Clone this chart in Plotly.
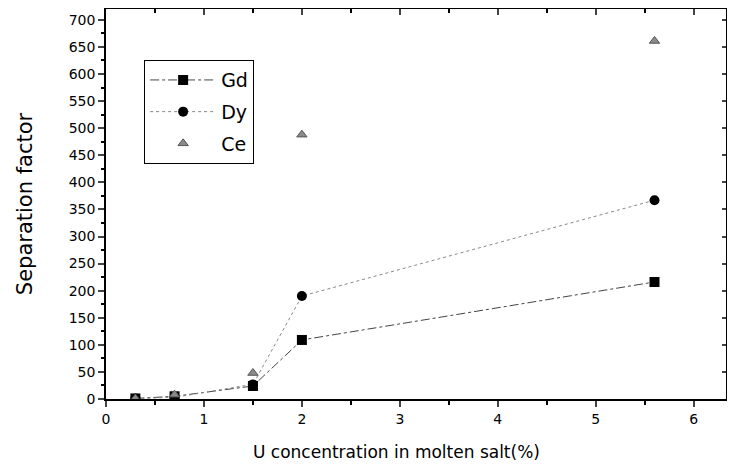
import plotly.graph_objects as go

x_vals = [0.3, 0.7, 1.5, 2.0, 5.6]
gd = [1, 5, 24, 109, 216]
dy = [1, 3, 27, 190, 367]
ce = [1, 8, 48, 488, 661]

x_ticks = [0, 1, 2, 3, 4, 5, 6]
y_ticks = list(range(0, 701, 50))

FONT = "DejaVu Sans, Liberation Sans, Arial, sans-serif"

fig = go.Figure()
fig.add_trace(go.Scatter(x=x_vals, y=gd, name="Gd", mode="lines+markers", legendgroup="a",
                         line=dict(color="#444", width=1, dash="dashdot"),
                         marker=dict(symbol="square", size=10, color="black")))
fig.add_trace(go.Scatter(x=x_vals, y=dy, name="Dy", mode="lines+markers", legendgroup="b",
                         line=dict(color="#888", width=1, dash="dot"),
                         marker=dict(symbol="circle", size=10, color="black")))
fig.add_trace(go.Scatter(x=x_vals, y=ce, name="Ce", mode="markers", legendgroup="c",
                         marker=dict(symbol="triangle-up", size=9, color="#8a8a8a",
                                     line=dict(color="#555", width=1))))
# invisible trace to carry top/right axes
fig.add_trace(go.Scatter(x=[0], y=[0], xaxis="x2", yaxis="y2", showlegend=False,
                         mode="markers", marker=dict(opacity=0), hoverinfo="skip"))

X_MAX = 6.33
Y_MAX = 720

fig.update_layout(
    width=719, height=456,
    margin=dict(l=98, r=1, t=1, b=65),
    paper_bgcolor="white", plot_bgcolor="white",
    font=dict(family=FONT, color="black"),
    showlegend=True,
    legend=dict(x=0.0615, y=0.869, xanchor="left", yanchor="top",
                bgcolor="white", bordercolor="black", borderwidth=1,
                font=dict(size=19, family=FONT), itemwidth=66,
                tracegroupgap=4),
    xaxis=dict(range=[0, X_MAX], tickvals=x_ticks, ticks="outside", ticklen=6,
               tickwidth=1.5, showline=True, linewidth=1.5, linecolor="black",
               showgrid=False, zeroline=False, automargin=False,
               tickfont=dict(size=14, family=FONT),
               minor=dict(dtick=0.5, ticks="outside", ticklen=4, tickcolor="black")),
    yaxis=dict(range=[0, Y_MAX], tickvals=y_ticks, ticks="outside", ticklen=6,
               tickwidth=1.5, showline=True, linewidth=1.5, linecolor="black",
               showgrid=False, zeroline=False, automargin=False,
               tickfont=dict(size=14, family=FONT),
               minor=dict(dtick=25, ticks="outside", ticklen=3, tickcolor="black"),
               title=dict(text="Separation factor",
                          font=dict(size=21, family=FONT), standoff=30)),
    xaxis2=dict(range=[0, X_MAX], overlaying="x", side="top", tickvals=x_ticks,
                ticks="inside", ticklen=6, tickwidth=1.5, showticklabels=False,
                showline=True, linewidth=1.5, linecolor="black", showgrid=False,
                zeroline=False, automargin=False,
                minor=dict(dtick=0.5, ticks="inside", ticklen=4, tickcolor="black")),
    yaxis2=dict(range=[0, Y_MAX], overlaying="y", side="right", tickvals=y_ticks,
                ticks="inside", ticklen=4, tickwidth=1.5, showticklabels=False,
                showline=True, linewidth=1.5, linecolor="black", showgrid=False,
                zeroline=False, automargin=False),
    annotations=[dict(text="U concentration in molten salt(%)", xref="paper", yref="paper",
                      x=0.469, y=-0.1365, xanchor="center", yanchor="middle",
                      showarrow=False, font=dict(size=17, family=FONT))],
)

fig.write_html("out.html")
